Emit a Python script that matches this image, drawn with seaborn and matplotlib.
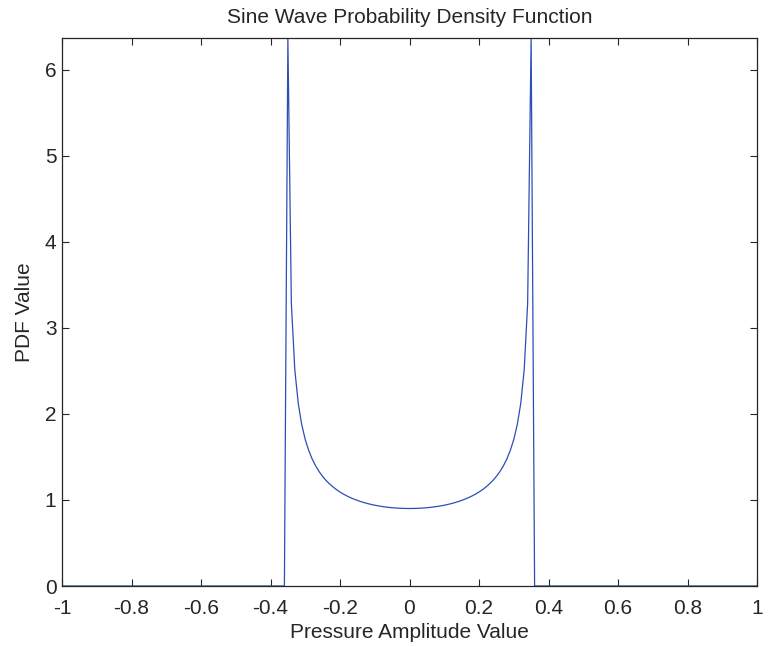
import matplotlib
matplotlib.use("Agg")
import matplotlib.pyplot as plt
import seaborn as sns
import pandas as pd

# Pressure amplitude (x) and PDF values
amplitude = [-1.00, -0.36,
             -0.35, -0.34, -0.33, -0.32, -0.31, -0.30, -0.29, -0.28, -0.27, -0.26,
             -0.25, -0.24, -0.23, -0.22, -0.21, -0.20, -0.19, -0.18, -0.17, -0.16,
             -0.15, -0.14, -0.13, -0.12, -0.11, -0.10, -0.09, -0.08, -0.07, -0.06,
             -0.05, -0.04, -0.03, -0.02, -0.01, 0.00,
             0.01, 0.02, 0.03, 0.04, 0.05, 0.06, 0.07, 0.08, 0.09, 0.10,
             0.11, 0.12, 0.13, 0.14, 0.15, 0.16, 0.17, 0.18, 0.19, 0.20,
             0.21, 0.22, 0.23, 0.24, 0.25, 0.26, 0.27, 0.28, 0.29, 0.30,
             0.31, 0.32, 0.33, 0.34, 0.35,
             0.36, 1.00]
pdf_value = [0.0, 0.0,
             6.3662, 3.2831, 2.5086, 2.1174, 1.8724, 1.7014, 1.5740, 1.4745, 1.3945, 1.3286,
             1.2732, 1.2261, 1.1854, 1.1501, 1.1191, 1.0918, 1.0676, 1.0460, 1.0268, 1.0096,
             0.9942, 0.9805, 0.9681, 0.9571, 0.9473, 0.9386, 0.9310, 0.9243, 0.9185, 0.9136,
             0.9095, 0.9061, 0.9036, 0.9018, 0.9007, 0.9003,
             0.9007, 0.9018, 0.9036, 0.9061, 0.9095, 0.9136, 0.9185, 0.9243, 0.9310, 0.9386,
             0.9473, 0.9571, 0.9681, 0.9805, 0.9942, 1.0096, 1.0268, 1.0460, 1.0676, 1.0918,
             1.1191, 1.1501, 1.1854, 1.2261, 1.2732, 1.3286, 1.3945, 1.4745, 1.5740, 1.7014,
             1.8724, 2.1174, 2.5086, 3.2831, 6.3662,
             0.0, 0.0]

x_ticks = [-1, -0.8, -0.6, -0.4, -0.2, 0, 0.2, 0.4, 0.6, 0.8, 1]
x_tick_labels = ["-1", "-0.8", "-0.6", "-0.4", "-0.2", "0", "0.2", "0.4", "0.6", "0.8", "1"]
y_ticks = [0, 1, 2, 3, 4, 5, 6]
y_tick_labels = ["0", "1", "2", "3", "4", "5", "6"]

sns.set_style("white")
plt.rcParams['font.family'] = ['Liberation Sans', 'DejaVu Sans']

df = pd.DataFrame({"amp": amplitude, "pdf": pdf_value})

fig = plt.figure(figsize=(7.68, 6.47), dpi=100)
ax = fig.add_axes([62 / 768, 61 / 647, 695 / 768, 548 / 647])

sns.lineplot(data=df, x="amp", y="pdf", sort=False, estimator=None,
             color="#2b4fb8", linewidth=0.9, ax=ax)

ax.set_xlim(-1, 1)
ax.set_ylim(0, max(pdf_value))
ax.set_xticks(x_ticks)
ax.set_xticklabels(x_tick_labels)
ax.set_yticks(y_ticks)
ax.set_yticklabels(y_tick_labels)

txt = "#262626"
for s in ax.spines.values():
    s.set_visible(True)
    s.set_color(txt)
    s.set_linewidth(0.9)

ax.tick_params(direction="in", length=5, width=0.8, colors=txt,
               labelsize=15, top=True, right=True, bottom=True, left=True)
ax.tick_params(axis="x", pad=9)
ax.tick_params(axis="y", pad=4)
ax.set_xlabel("Pressure Amplitude Value", fontsize=15, color=txt, labelpad=4)
ax.set_ylabel("PDF Value", fontsize=15, color=txt, labelpad=8)
ax.set_title("Sine Wave Probability Density Function", fontsize=15, color=txt, pad=11)

fig.savefig("out.png", dpi=100)
